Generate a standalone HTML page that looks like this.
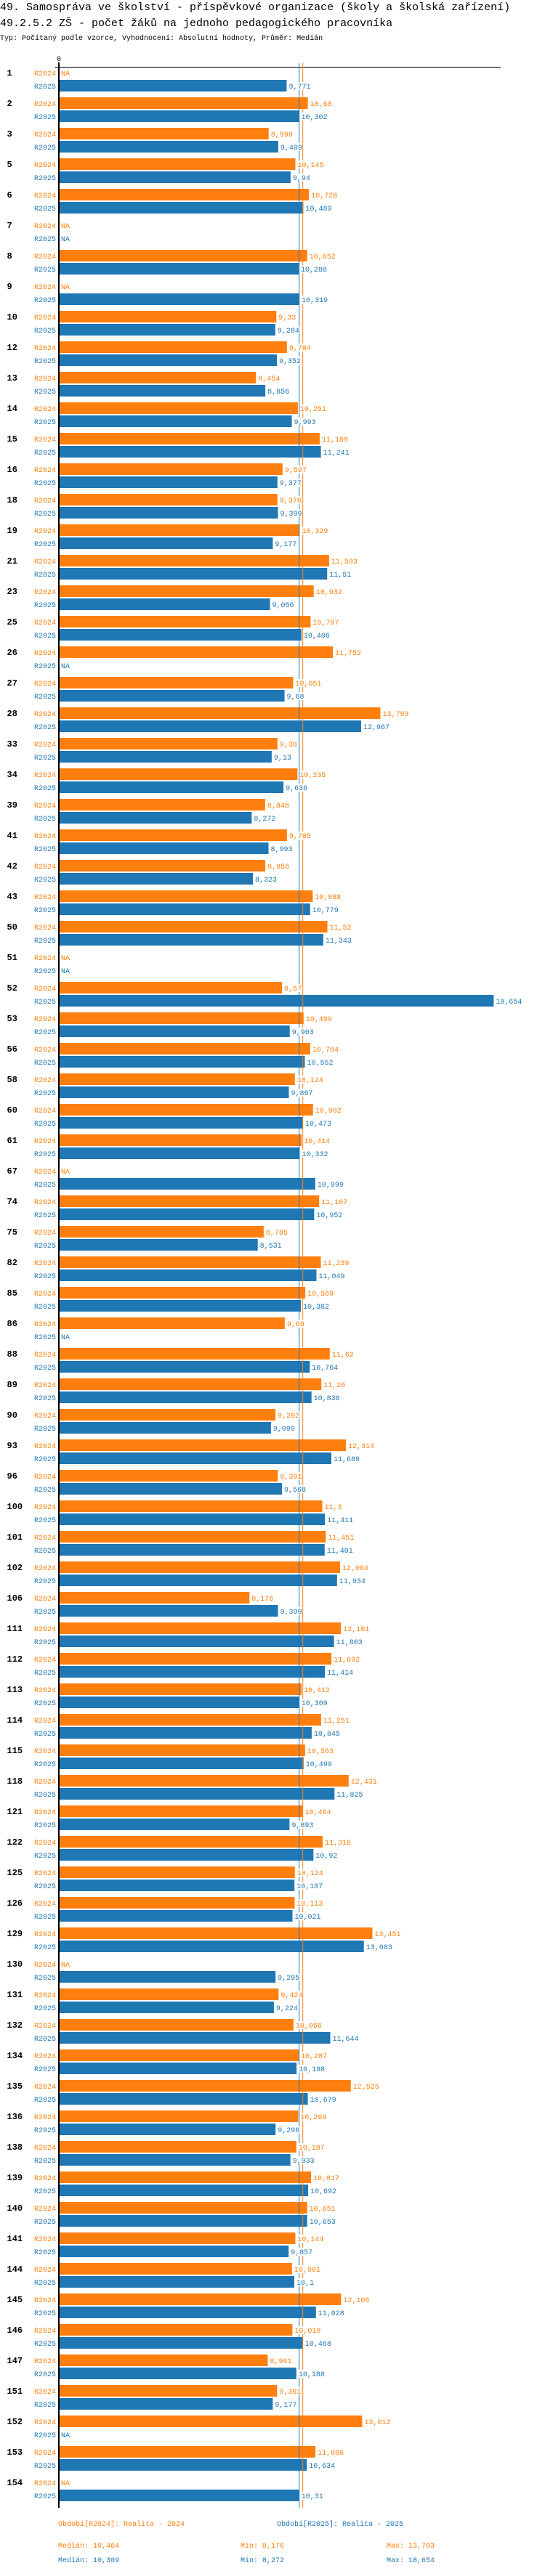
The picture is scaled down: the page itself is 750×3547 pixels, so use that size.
<!DOCTYPE html>
<html><head><meta charset="utf-8">
<style>
html,body{margin:0;padding:0;background:#fff;}
body{width:750px;height:3542px;overflow:hidden;}
svg text{font-family:"Liberation Mono","DejaVu Sans Mono",monospace;}
</style></head>
<body>
<svg id="chart" width="750" height="3542" viewBox="0 0 750 3542" xmlns="http://www.w3.org/2000/svg">
<text x="0" y="14" font-size="15" fill="#000">49. Samospráva ve školství - příspěvkové organizace (školy a školská zařízení)</text>
<text x="0" y="36" font-size="15" fill="#000">49.2.5.2 ZŠ - počet žáků na jednoho pedagogického pracovníka</text>
<text x="0" y="55" font-size="10" fill="#000">Typ: Počítaný podle vzorce, Vyhodnocení: Absolutní hodnoty, Průměr: Medián</text>
<g id="plot"></g>
<text x="80" y="3478" font-size="10" fill="#ff7f0e">Období[R2024]: Realita - 2024</text>
<text x="381" y="3478" font-size="10" fill="#1f77b4">Období[R2025]: Realita - 2025</text>
<text x="80" y="3508" font-size="10" fill="#ff7f0e">Medián: 10,464</text>
<text x="331" y="3508" font-size="10" fill="#ff7f0e">Min: 8,176</text>
<text x="532" y="3508" font-size="10" fill="#ff7f0e">Max: 13,793</text>
<text x="80" y="3528" font-size="10" fill="#1f77b4">Medián: 10,309</text>
<text x="331" y="3528" font-size="10" fill="#1f77b4">Min: 8,272</text>
<text x="532" y="3528" font-size="10" fill="#1f77b4">Max: 18,654</text>
</svg>
<script>
const categories=[1,2,3,5,6,7,8,9,10,12,13,14,15,16,18,19,21,23,25,26,27,28,33,34,39,41,42,43,50,51,52,53,56,58,60,61,67,74,75,82,85,86,88,89,90,93,96,100,101,102,106,111,112,113,114,115,118,121,122,125,126,129,130,131,132,134,135,136,138,139,140,141,144,145,146,147,151,152,153,154];
const values2024=[null,10.68,8.999,10.145,10.728,null,10.652,null,9.33,9.784,8.454,10.251,11.189,9.597,9.376,10.329,11.593,10.932,10.797,11.752,10.051,13.793,9.38,10.235,8.848,9.785,8.856,10.888,11.52,null,9.57,10.499,10.784,10.124,10.902,10.414,null,11.167,8.785,11.239,10.569,9.69,11.62,11.26,9.292,12.314,9.391,11.3,11.451,12.064,8.176,12.101,11.692,10.412,11.251,10.563,12.431,10.464,11.316,10.124,10.113,13.451,null,9.424,10.066,10.287,12.525,10.269,10.187,10.817,10.651,10.144,10.001,12.106,10.018,8.961,9.361,13.012,11.006,null];
const values2025=[9.771,10.302,9.409,9.94,10.489,null,10.288,10.319,9.284,9.352,8.856,9.993,11.241,9.377,9.399,9.177,11.51,9.056,10.406,null,9.68,12.967,9.13,9.636,8.272,8.993,8.323,10.779,11.343,null,18.654,9.903,10.552,9.867,10.473,10.332,10.999,10.952,8.531,11.049,10.382,null,10.764,10.838,9.099,11.689,9.568,11.411,11.401,11.934,9.399,11.803,11.414,10.309,10.845,10.499,11.825,9.893,10.92,10.107,10.021,13.083,9.295,9.224,11.644,10.198,10.679,9.296,9.933,10.692,10.653,9.857,10.1,11.028,10.468,10.188,9.177,null,10.634,10.31];
const medians=[10.464,10.309];
const tickLabels=["0"];

const NS="http://www.w3.org/2000/svg";
const plot=document.getElementById('plot');
const X0=81, K=32.08, TOP=92, STEP=42;
const xs=v=>X0+v*K;
const C24="#ff7f0e", C25="#1f77b4";
const bottom=TOP+categories.length*STEP-23;
function mk(tag,attrs,parent){const e=document.createElementNS(NS,tag);for(const k in attrs)e.setAttribute(k,attrs[k]);(parent||plot).appendChild(e);return e;}
function fmt(v){return String(v).replace('.',',');}

const t0=mk('text',{x:xs(0),y:84,'font-size':10,'text-anchor':'middle',fill:'#000'});


t0.textContent=tickLabels[0];
const ax=mk('line',{x1:75.5,x2:689,y1:TOP+0.5,y2:TOP+0.5,stroke:'#000','stroke-width':1});



const barsG=mk('g',{});
const medG=mk('g',{});
const labG=mk('g',{});

categories.forEach((c,i)=>{
  const y24=TOP+i*STEP, y25=y24+18;
  const rn=mk('text',{x:9.5,y:y24+12,'font-size':12,'font-weight':'bold',fill:'#000'},labG);
  
  
  rn.textContent=c;
  [[values2024[i],y24,C24,'R2024'],[values2025[i],y25,C25,'R2025']].forEach(([v,y,col,lab])=>{
    const sl=mk('text',{x:77,y:y+12,'font-size':10,'text-anchor':'end',fill:col},labG);
    
    
    sl.textContent=lab;
    if(v===null){
      const na=mk('text',{x:84,y:y+12,'font-size':10,fill:col},labG);
      
      
      na.textContent='NA';
    }else{
      const r=mk('rect',{x:82,y:y,width:Math.max(0,xs(v)-82),height:16,fill:col},barsG);
      
      
      const tx=xs(v)+3, w=fmt(v).length*6;
      const bg=mk('rect',{x:tx,y:y+3,width:w,height:11,fill:'#fff'},labG);
      
      
      const vt=mk('text',{x:tx,y:y+12,'font-size':10,fill:col},labG);
      
      
      vt.textContent=fmt(v);
    }
  });
});
[[medians[0],C24,'median-line-2024'],[medians[1],C25,'median-line-2025']].forEach(([m,col,n])=>{
  const l=mk('line',{x1:xs(m),x2:xs(m),y1:87,y2:3453,stroke:col,'stroke-width':1},medG);
  
  
});
plot.appendChild(labG);
const va=mk('rect',{x:80,y:86,width:2,height:3453-86,fill:'#000'});


</script>
</body></html>
